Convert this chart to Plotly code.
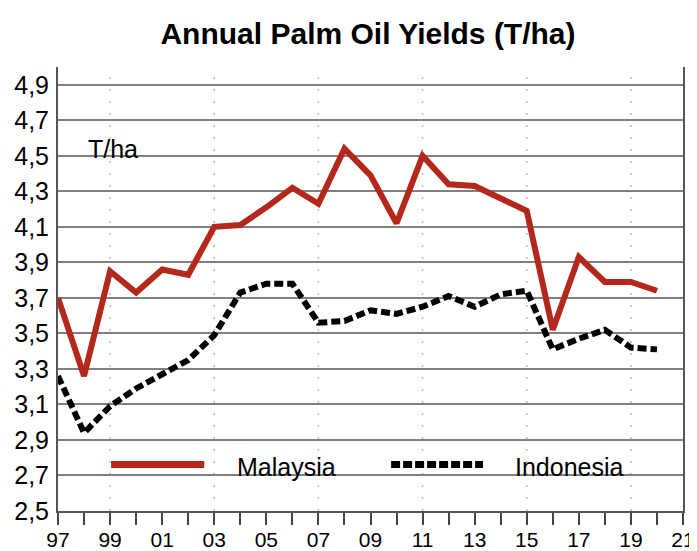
import plotly.graph_objects as go

# ---- data ----
years = [1997, 1998, 1999, 2000, 2001, 2002, 2003, 2004, 2005, 2006, 2007, 2008,
         2009, 2010, 2011, 2012, 2013, 2014, 2015, 2016, 2017, 2018, 2019, 2020]
malaysia = [3.70, 3.26, 3.85, 3.73, 3.86, 3.83, 4.10, 4.11, 4.21, 4.32, 4.23, 4.54,
            4.39, 4.12, 4.50, 4.34, 4.33, 4.26, 4.19, 3.52, 3.93, 3.79, 3.79, 3.74]
indonesia = [3.26, 2.94, 3.09, 3.19, 3.27, 3.35, 3.49, 3.73, 3.78, 3.78, 3.56, 3.57,
             3.63, 3.61, 3.65, 3.71, 3.65, 3.72, 3.74, 3.41, 3.47, 3.52, 3.42, 3.41]
tick_years = [1997, 1998, 1999, 2000, 2001, 2002, 2003, 2004, 2005, 2006, 2007, 2008, 2009,
              2010, 2011, 2012, 2013, 2014, 2015, 2016, 2017, 2018, 2019, 2020, 2021]
tick_labels = ["97", "", "99", "", "01", "", "03", "", "05", "", "07", "", "09",
               "", "11", "", "13", "", "15", "", "17", "", "19", "", "21"]
grid_years = [1999, 2003, 2007, 2011, 2015, 2019]
y_ticks = [2.5, 2.7, 2.9, 3.1, 3.3, 3.5, 3.7, 3.9, 4.1, 4.3, 4.5, 4.7, 4.9]

RED = "#b3281a"
FONT = "Liberation Sans, Arial, sans-serif"

fig = go.Figure()
fig.add_trace(go.Scatter(x=years, y=malaysia, mode="lines", name="Malaysia",
                         line=dict(color=RED, width=6), showlegend=False))
fig.add_trace(go.Scatter(x=years, y=indonesia, mode="lines", name="Indonesia",
                         line=dict(color="black", width=6, dash="9px,4px"), showlegend=False))

for gy in grid_years:
    fig.add_vline(x=gy, line=dict(color="#b8b8b8", width=1.5, dash="2px,10px"), layer="below")

# custom legend keys
fig.add_shape(type="line", xref="paper", yref="paper", x0=0.085, x1=0.234, y0=0.1046, y1=0.1046,
              line=dict(color=RED, width=7))
fig.add_shape(type="line", xref="paper", yref="paper", x0=0.533, x1=0.68, y0=0.1046, y1=0.1046,
              line=dict(color="black", width=7, dash="9px,3px"))
fig.add_annotation(text="Malaysia", xref="paper", yref="paper", x=0.283, y=0.100,
                   xanchor="left", yanchor="middle", showarrow=False,
                   font=dict(family=FONT, size=25, color="black"))
fig.add_annotation(text="Indonesia", xref="paper", yref="paper", x=0.728, y=0.100,
                   xanchor="left", yanchor="middle", showarrow=False,
                   font=dict(family=FONT, size=25, color="black"))
fig.add_annotation(text="T/ha", xref="paper", yref="paper", x=0.045, y=0.816,
                   xanchor="left", yanchor="middle", showarrow=False,
                   font=dict(family=FONT, size=25, color="black"))

fig.update_layout(
    width=697, height=551,
    margin=dict(l=50, r=22, t=59, b=48),
    paper_bgcolor="white", plot_bgcolor="white",
    separators=",.",
    title=dict(text="<b>Annual Palm Oil Yields (T/ha)</b>", x=0.5165, y=0.9546,
               xanchor="center", yanchor="middle", xref="container", yref="container",
               font=dict(family=FONT, size=30, color="black")),
    xaxis=dict(range=[1997, 2021], tickmode="array", tickvals=tick_years, ticktext=tick_labels,
               ticks="outside", ticklen=12, tickwidth=2, tickcolor="#444",
               ticklabelstandoff=-3, automargin=False,
               showgrid=False, zeroline=False, showline=True, linecolor="#555", linewidth=2,
               tickfont=dict(family=FONT, size=21, color="black")),
    yaxis=dict(range=[2.5, 5.0], tickmode="array", tickvals=y_ticks, tickformat=".1f",
               showgrid=True, gridcolor="#808080", gridwidth=2, zeroline=False,
               showline=True, mirror=True, linecolor="#555", linewidth=2, ticks="",
               automargin=False, ticklabelstandoff=2,
               tickfont=dict(family=FONT, size=25, color="black")),
)

fig.write_html("out.html")
